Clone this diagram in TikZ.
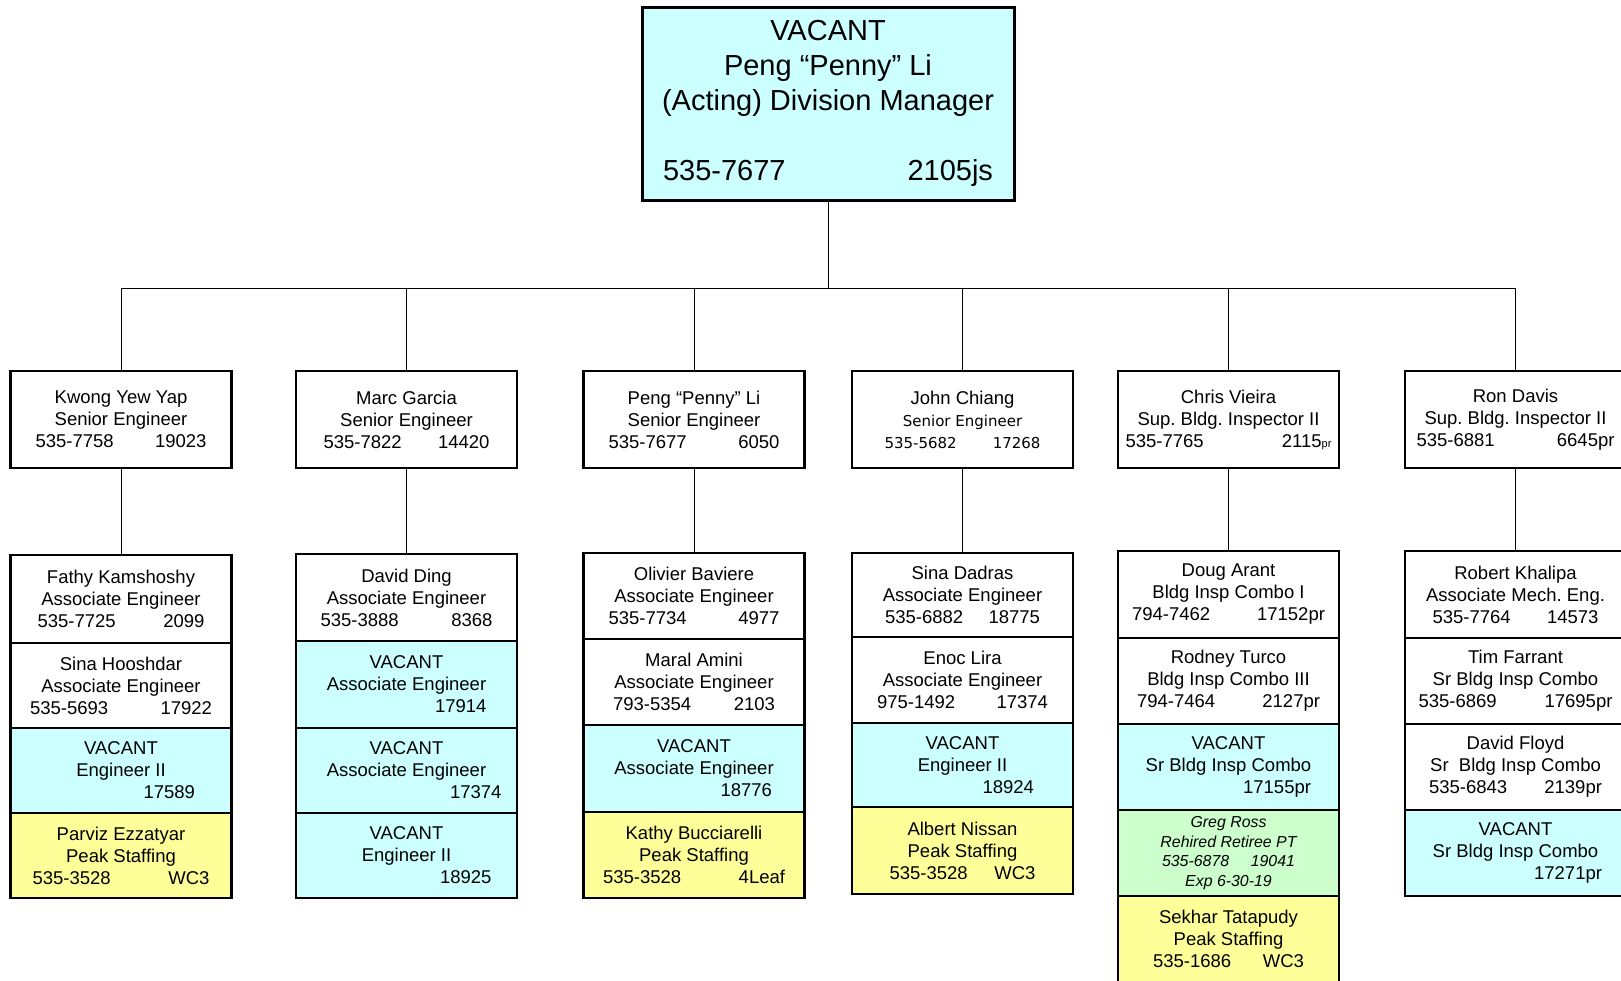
\documentclass[tikz,border=0pt]{standalone}
\usepackage{fontspec}
\setmainfont{Liberation Sans}
\newfontfamily\dvsans{DejaVu Sans}
\definecolor{vacfill}{HTML}{CCFFFF}
\definecolor{peakfill}{HTML}{FFFF99}
\definecolor{retfill}{HTML}{CCFFCC}
\newcommand\phline[3]{\makebox[#1pt]{#2\hfill #3}}
\newcommand\extonly[2]{\makebox[#1pt]{\hfill #2}}
\newcommand\smallpr{{\fontsize{11}{11}\selectfont pr}}
\tikzset{
  cell/.style={draw, line width=2.6pt, minimum width=221pt, inner sep=0pt, align=center,
    font=\frenchspacing\fontsize{18.5}{22}\selectfont},
  vac/.style={cell, fill=vacfill},
  peak/.style={cell, fill=peakfill},
  retiree/.style={cell, fill=retfill, font=\frenchspacing\itshape\fontsize{15.9}{19.5}\selectfont},
  topbox/.style={draw, line width=3pt, fill=vacfill, minimum width=372pt, minimum height=193pt,
    inner sep=0pt, align=center, font=\fontsize{29}{35}\selectfont},
  conn/.style={line width=1pt}
}
\begin{document}
\begin{tikzpicture}[x=1pt,y=-1pt]
\useasboundingbox (0,0) rectangle (1621,980);
\clip (0,0) rectangle (1621,980);
\fill[white] (0,0) rectangle (1621,980);

% top
\node[topbox] (top) at (828,103.5) {VACANT\\Peng “Penny” Li\\(Acting) Division Manager\\[35pt]\phline{330}{535-7677}{2105js}};

% level 2
\node[cell, minimum height=97pt] (kwong) at (121,419.5) {Kwong Yew Yap\\Senior Engineer\\\phline{171}{535-7758}{19023}};
\node[cell, minimum height=97pt] (marc) at (406.5,419.5) {Marc Garcia\\Senior Engineer\\\phline{166}{535-7822}{14420}};
\node[cell, minimum height=97pt] (peng) at (694,419.5) {Peng “Penny” Li\\Senior Engineer\\\phline{171}{535-7677}{6050}};
\node[cell, minimum height=97pt] (john) at (962.5,419.5) {John Chiang\\{\dvsans\fontsize{15}{22}\selectfont Senior Engineer}\\{\dvsans\fontsize{15}{22}\selectfont\phline{156}{535-5682}{17268}}};
\node[cell, minimum height=97pt] (chris) at (1228.5,419.5) {Chris Vieira\\Sup. Bldg. Inspector II\\\phline{206}{535-7765}{2115\smallpr}};
\node[cell, minimum height=97pt] (ron) at (1515.5,419.5) {Ron Davis\\Sup. Bldg. Inspector II\\\phline{198}{535-6881}{6645pr}};

% column A
\node[cell, minimum height=88pt] (a1) at (121,599) {Fathy Kamshoshy\\Associate Engineer\\\phline{167}{535-7725}{2099}};
\node[cell, minimum height=85pt] (a2) at (121,685.5) {Sina Hooshdar\\Associate Engineer\\\phline{182}{535-5693}{17922}};
\node[vac, minimum height=85pt] (a3) at (121,770.5) {VACANT\\Engineer II\\\extonly{148}{17589}};
\node[peak, minimum height=85pt] (a4) at (121,855.5) {Parviz Ezzatyar\\Peak Staffing\\\phline{177}{535-3528}{WC3}};

% column B
\node[cell, minimum height=87pt] (b1) at (406.5,597.5) {David Ding\\Associate Engineer\\\phline{172}{535-3888}{8368}};
\node[vac, minimum height=87pt] (b2) at (406.5,684.5) {VACANT\\Associate Engineer\\\extonly{160}{17914}};
\node[vac, minimum height=85pt] (b3) at (406.5,770.5) {VACANT\\Associate Engineer\\\extonly{190}{17374}};
\node[vac, minimum height=85pt] (b4) at (406.5,855.5) {VACANT\\Engineer II\\\extonly{170}{18925}};

% column C
\node[cell, minimum height=86pt] (c1) at (694,596) {Olivier Baviere\\Associate Engineer\\\phline{171}{535-7734}{4977}};
\node[cell, minimum height=86pt] (c2) at (694,682) {Maral Amini\\Associate Engineer\\\phline{162}{793-5354}{2103}};
\node[vac, minimum height=87pt] (c3) at (694,768.5) {VACANT\\Associate Engineer\\\extonly{156}{18776}};
\node[peak, minimum height=86pt] (c4) at (694,855) {Kathy Bucciarelli\\Peak Staffing\\\phline{182}{535-3528}{4Leaf}};

% column D
\node[cell, minimum height=84pt] (d1) at (962.5,595) {Sina Dadras\\Associate Engineer\\\phline{155}{535-6882}{18775}};
\node[cell, minimum height=86pt] (d2) at (962.5,680) {Enoc Lira\\Associate Engineer\\\phline{171}{975-1492}{17374}};
\node[vac, minimum height=84pt] (d3) at (962.5,765) {VACANT\\Engineer II\\\extonly{143}{18924}};
\node[peak, minimum height=87pt] (d4) at (962.5,850.5) {Albert Nissan\\Peak Staffing\\\phline{146}{535-3528}{WC3}};

% column E
\node[cell, minimum height=87pt] (e1) at (1228.5,594.5) {Doug Arant\\Bldg Insp Combo I\\\phline{193}{794-7462}{17152pr}};
\node[cell, minimum height=86pt] (e2) at (1228.5,681) {Rodney Turco\\Bldg Insp Combo III\\\phline{183}{794-7464}{2127pr}};
\node[vac, minimum height=86pt] (e3) at (1228.5,767) {VACANT\\Sr Bldg Insp Combo\\\extonly{165}{17155pr}};
\node[retiree, minimum height=86pt] (e4) at (1228.5,853) {Greg Ross\\Rehired Retiree PT\\\phline{133}{535-6878}{19041}\\Exp 6-30-19};
\node[peak, minimum height=86pt] (e5) at (1228.5,939) {Sekhar Tatapudy\\Peak Staffing\\\phline{151}{535-1686}{WC3}};

% column F
\node[cell, minimum height=87pt] (f1) at (1515.5,594.5) {Robert Khalipa\\Associate Mech. Eng.\\\phline{166}{535-7764}{14573}};
\node[cell, minimum height=86pt] (f2) at (1515.5,681) {Tim Farrant\\Sr Bldg Insp Combo\\\phline{194}{535-6869}{17695pr}};
\node[cell, minimum height=86pt] (f3) at (1515.5,767) {David Floyd\\Sr\ \ Bldg Insp Combo\\\phline{173}{535-6843}{2139pr}};
\node[vac, minimum height=86pt] (f4) at (1515.5,853) {VACANT\\Sr Bldg Insp Combo\\\extonly{173}{17271pr}};

% connectors
\coordinate (bus) at (828,288);
\draw[conn] (top.south) -- (bus);
\foreach \n in {kwong,marc,peng,john,chris,ron} \draw[conn] (\n.north) |- (bus);
\draw[conn] (kwong.south) -- (a1.north);
\draw[conn] (marc.south) -- (b1.north);
\draw[conn] (peng.south) -- (c1.north);
\draw[conn] (john.south) -- (d1.north);
\draw[conn] (chris.south) -- (e1.north);
\draw[conn] (ron.south) -- (f1.north);
\end{tikzpicture}
\end{document}
